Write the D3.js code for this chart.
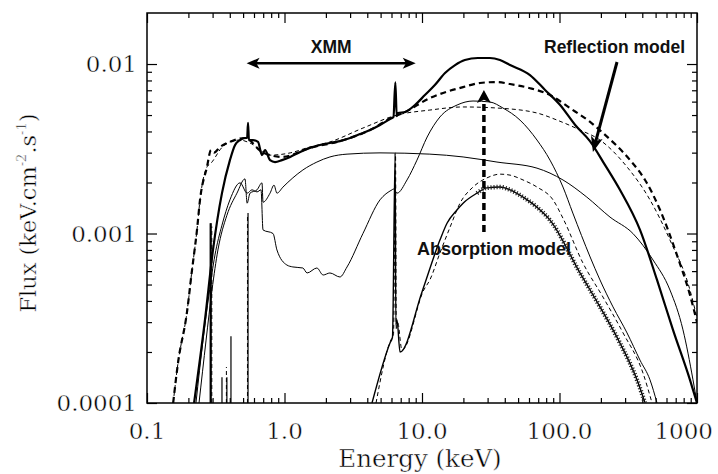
<!DOCTYPE html>
<html><head><meta charset="utf-8">
<script src="https://cdn.jsdelivr.net/npm/d3@7"></script>
<style>body{margin:0;background:#fff} svg{display:block}</style>
</head><body><svg id="c" width="718" height="474"></svg>
<script>
// ---- axis ticks / labels ----
const xTicks = [0.1, 1, 10, 100, 1000];
const xTickLabels = ["0.1", "1.0", "10.0", "100.0", "1000"];
const yTicks = [0.0001, 0.001, 0.01];
const yTickLabels = ["0.0001", "0.001", "0.01"];
const xTitle = "Energy (keV)";

// ---- series: [energy keV, flux keV cm^-2 s^-1] ----
// thick solid: total reflection model
const reflTotal = [[0.22,1e-4],[0.264,3.09e-4],[0.302,8.0e-4],[0.351,1.73e-3],[0.401,2.71e-3],[0.437,3.33e-3],[0.475,3.56e-3],[0.516,3.66e-3],[0.535,3.66e-3],[0.543,4.5e-3],[0.551,3.56e-3],[0.59,3.56e-3],[0.642,3.47e-3],[0.686,2.90e-3],[0.722,3.11e-3],[0.785,2.71e-3],[0.853,2.64e-3],[0.959,2.71e-3],[1.10,2.83e-3],[1.30,3.03e-3],[1.53,3.20e-3],[1.81,3.33e-3],[2.14,3.42e-3],[2.53,3.51e-3],[3.0,3.66e-3],[3.54,3.86e-3],[4.19,4.08e-3],[4.95,4.37e-3],[5.85,4.74e-3],[6.2,4.87e-3],[6.4,7.8e-3],[6.55,4.93e-3],[6.69,5.14e-3],[7.52,5.21e-3],[8.89,5.73e-3],[10.5,6.56e-3],[12.4,7.52e-3],[14.7,8.85e-3],[17.4,9.86e-3],[20.5,1.056e-2],[25.5,1.085e-2],[31.2,1.085e-2],[36.9,1.056e-2],[43.7,9.86e-3],[61.0,8.61e-3],[78.5,7.03e-3],[101,5.73e-3],[130,4.37e-3],[167,3.5e-3],[214,2.54e-3],[275,1.81e-3],[385,1.05e-3],[512,5.32e-4],[669,2.70e-4],[889,1.37e-4],[1000,1e-4]];
// thick dashed: reflection model variant
const reflDashed = [[0.155,1e-4],[0.168,1.72e-4],[0.195,3.40e-4],[0.2125,6.09e-4],[0.231,1.05e-3],[0.243,1.58e-3],[0.273,2.47e-3],[0.292,3.11e-3],[0.307,3.0e-3],[0.34,3.24e-3],[0.401,3.47e-3],[0.459,3.61e-3],[0.516,3.66e-3],[0.686,3.03e-3],[0.959,2.83e-3],[1.53,3.2e-3],[2.53,3.51e-3],[4.19,4.08e-3],[6.15,4.87e-3],[7.28,5.14e-3],[11.4,6.29e-3],[19.9,7.31e-3],[26.4,7.73e-3],[35.1,7.83e-3],[43.7,7.62e-3],[61.0,7.2e-3],[85.3,6.56e-3],[119,5.5e-3],[167,4.55e-3],[207,3.92e-3],[326,2.71e-3],[419,2.07e-3],[538,1.38e-3],[715,7.46e-4],[889,4.34e-4],[1000,3.0e-4]];
// thin dashed: reflection component
const reflThin = [[0.155,1e-4],[0.168,1.72e-4],[0.195,3.40e-4],[0.2125,6.09e-4],[0.231,1.05e-3],[0.243,1.58e-3],[0.273,2.47e-3],[0.292,2.6e-3],[0.351,3.22e-3],[0.41,3.5e-3],[0.475,3.56e-3],[0.561,3.42e-3],[0.785,2.9e-3],[1.10,2.99e-3],[1.53,3.24e-3],[2.14,3.47e-3],[3.72,4.19e-3],[6.58,5.0e-3],[11.4,5.35e-3],[19.9,5.58e-3],[35.1,5.5e-3],[68.6,5.14e-3],[95.9,4.67e-3],[141,4.08e-3],[197,3.56e-3],[310,2.47e-3],[455,1.58e-3],[636,9.15e-4],[889,4.64e-4],[1000,3.17e-4]];
// thin solid: cut-off power-law continuum
const continuum = [[0.239,1e-4],[0.269,2.35e-4],[0.297,4.64e-4],[0.328,8.0e-4],[0.381,1.28e-3],[0.451,1.73e-3],[0.516,2.1e-3],[0.535,1.51e-3],[0.561,1.73e-3],[0.631,1.81e-3],[0.686,1.99e-3],[0.698,1.53e-3],[0.785,1.73e-3],[0.839,1.93e-3],[0.881,1.73e-3],[0.975,1.88e-3],[1.15,2.13e-3],[1.36,2.37e-3],[1.72,2.64e-3],[2.14,2.83e-3],[2.85,2.94e-3],[4.95,2.99e-3],[11.4,2.94e-3],[19.9,2.83e-3],[35.1,2.64e-3],[68.6,2.43e-3],[106,2.07e-3],[158,1.64e-3],[233,1.25e-3],[342,1.0e-3],[479,6.98e-4],[636,4.64e-4],[791,2.7e-4],[935,1.37e-4],[1000,1e-4]];
// thin solid: absorbed continuum + reflection hump
const absorbedHump = [[0.227,1e-4],[0.2555,2.35e-4],[0.282,4.34e-4],[0.312,7.46e-4],[0.351,1.12e-3],[0.401,1.58e-3],[0.475,1.99e-3],[0.535,1.73e-3],[0.58,1.81e-3],[0.631,1.76e-3],[0.675,1.81e-3],[0.698,1.05e-3],[0.825,1.0e-3],[0.881,8.0e-4],[1.04,6.52e-4],[1.15,6.35e-4],[1.36,6.26e-4],[1.46,5.85e-4],[1.72,6.26e-4],[1.91,5.69e-4],[2.14,5.85e-4],[2.53,5.54e-4],[2.85,6.35e-4],[3.72,1.0e-3],[4.95,1.58e-3],[6.05,1.81e-3],[6.2,1.83e-3],[6.58,1.73e-3],[7.78,2.07e-3],[9.19,2.71e-3],[10.9,3.71e-3],[13.5,4.87e-3],[18.0,5.73e-3],[23.5,6.05e-3],[31.2,5.97e-3],[38.8,5.5e-3],[51.6,4.67e-3],[68.6,3.56e-3],[85.3,2.71e-3],[106,1.88e-3],[125,1.32e-3],[167,7.27e-4],[197,5.32e-4],[245,3.69e-4],[310,2.59e-4],[385,1.79e-4],[455,1.37e-4],[512,1e-4]];
// jagged solid: absorption model
const absModel = [[4.33,1e-4],[5.85,2.26e-4],[6.1,2.45e-4],[6.38,2.99e-3],[6.45,2.9e-4],[6.58,3.09e-4],[6.92,2.0e-4],[10.0,4.52e-4],[13.5,9.15e-4],[15.2,1.15e-3],[18.0,1.38e-3],[19.9,1.51e-3],[25.1,1.73e-3],[29.7,1.86e-3],[36.9,1.88e-3],[43.7,1.81e-3],[54.3,1.64e-3],[68.6,1.43e-3],[85.3,1.2e-3],[141,5.85e-4],[197,3.69e-4],[275,2.26e-4],[366,1.37e-4],[419,1e-4]];
// thin dashed: absorption model variant
const absDashed = [[4.63,1e-4],[5.95,2.36e-4],[6.2,2.5e-4],[6.42,2.9e-3],[6.5,2.7e-4],[6.65,3.0e-4],[7.15,2.05e-4],[10.3,4.64e-4],[11.4,5.32e-4],[13.5,7.67e-4],[16.0,1.09e-3],[18.9,1.51e-3],[23.5,1.88e-3],[29.7,2.13e-3],[36.9,2.24e-3],[43.7,2.21e-3],[54.3,2.07e-3],[68.6,1.88e-3],[89.7,1.58e-3],[106,1.23e-3],[148,6.7e-4],[207,4.22e-4],[290,2.59e-4],[405,1.5e-4],[471,1e-4]];
// emission lines / edges at low energy: [energy, peak flux]
const lowLinesSolid = [[0.292,1.15e-3],[0.351,1.42e-4],[0.381,1.42e-4],[0.408,2.48e-4],[0.543,1.32e-3]];
const lowLinesThickSolid = [[0.29,1.15e-3]];
const lowLinesDashed = [[0.296,1.1e-3],[0.378,1.63e-4],[0.538,1.3e-3]];

// ---- annotations (data coordinates) ----
const xmmRange = [0.53, 9.0], xmmFlux = 0.0101;
const reflArrow = [[262, 1.028e-2], [175, 3.03e-3]];
const absArrow = [28.2, 1.02e-3, 7.03e-3];

// ---- drawing ----
const svg = d3.select("#c");
const M = {l:147, r:697, t:13, b:403};
const x = d3.scaleLog().domain([0.1, 1000]).range([M.l, M.r]);
const y = d3.scaleLog().domain([1e-4, 0.02]).range([M.b, M.t]);
const serif = "'DejaVu Serif', serif";
const sans = "'Liberation Sans', Arial, sans-serif";

svg.append("defs").append("clipPath").attr("id","clip")
  .append("rect").attr("x",M.l).attr("y",M.t).attr("width",M.r-M.l).attr("height",M.b-M.t);

const minorX = [], minorY = [];
xTicks.slice(0,-1).forEach(d => { for (let k=2;k<=9;k++) minorX.push(d*k); });
yTicks.forEach(d => { for (let k=2;k<=9;k++) if (d*k < 0.02) minorY.push(d*k); });

function ax(gen, tr, vals, size) {
  svg.append("g").attr("transform", tr)
    .call(gen.tickValues(vals).tickSize(size).tickFormat(""))
    .call(g => { g.select(".domain").remove(); g.selectAll("line").attr("stroke","#000").attr("stroke-width",1.2); });
}
ax(d3.axisBottom(x), `translate(0,${M.b})`, xTicks, -10);
ax(d3.axisBottom(x), `translate(0,${M.b})`, minorX, -5);
ax(d3.axisTop(x), `translate(0,${M.t})`, xTicks, -10);
ax(d3.axisTop(x), `translate(0,${M.t})`, minorX, -5);
ax(d3.axisLeft(y), `translate(${M.l},0)`, yTicks, -10);
ax(d3.axisLeft(y), `translate(${M.l},0)`, minorY, -5);
ax(d3.axisRight(y), `translate(${M.r},0)`, yTicks, -10);
ax(d3.axisRight(y), `translate(${M.r},0)`, minorY, -5);

svg.append("rect").attr("x",M.l).attr("y",M.t).attr("width",M.r-M.l).attr("height",M.b-M.t)
  .attr("fill","none").attr("stroke","#000").attr("stroke-width",1.5);

// thin-looking serif text (slightly erode glyph edges with a white stroke)
function thin(sel) { return sel.attr("font-family", serif).attr("fill","#000").attr("stroke","#fff").attr("stroke-width",0.45); }

// tick labels
thin(svg.append("g").selectAll("text").data(xTicks).join("text")
  .attr("x", (d,i) => i === xTicks.length-1 ? 713 : x(d)).attr("y", 439)
  .attr("text-anchor", (d,i) => i === xTicks.length-1 ? "end" : "middle")
  .attr("font-size", 23)
  .text((d,i) => xTickLabels[i]));
thin(svg.append("g").selectAll("text").data(yTicks).join("text")
  .attr("x", 137).attr("y", d => y(d) + 8).attr("text-anchor","end")
  .attr("font-size", 23)
  .text((d,i) => yTickLabels[i]));

// axis titles
thin(svg.append("text").attr("x", 420).attr("y", 467).attr("text-anchor","middle")
  .attr("font-size", 24.5).text(xTitle));
const yl = thin(svg.append("text").attr("transform","translate(36,213) rotate(-90)")
  .attr("text-anchor","middle").attr("font-size", 22.5));
yl.append("tspan").text("Flux (keV.cm");
yl.append("tspan").attr("dy",-10).attr("font-size",13).text("-2");
yl.append("tspan").attr("dy",10).text(".s");
yl.append("tspan").attr("dy",-10).attr("font-size",13).text("-1");
yl.append("tspan").attr("dy",10).text(")");

// curves
const plot = svg.append("g").attr("clip-path","url(#clip)");
const line = d3.line().x(d => x(d[0])).y(d => y(d[1])).curve(d3.curveMonotoneX);
function draw(data, w, dash) {
  plot.append("path").attr("d", line(data)).attr("fill","none").attr("stroke","#000")
    .attr("stroke-width", w).attr("stroke-dasharray", dash || null).attr("stroke-linejoin","round");
}
draw(continuum, 1);
draw(absorbedHump, 1);
draw(absDashed, 1, "4,3");
draw(absModel, 1.4);
plot.append("path").attr("d", line(absModel.filter(d => d[0] >= 24 && d[0] <= 420)))
  .attr("fill","none").attr("stroke","#222").attr("stroke-width",4.5).attr("stroke-dasharray","1.1,1.9");
draw(reflThin, 1, "4,3");
draw(reflDashed, 2.2, "6,4");
draw(reflTotal, 2.2);

function spikes(data, w, dash) {
  plot.append("g").selectAll("line").data(data).join("line")
    .attr("x1", d => x(d[0])).attr("x2", d => x(d[0]))
    .attr("y1", y(1e-4)).attr("y2", d => y(d[1]))
    .attr("stroke","#000").attr("stroke-width", w).attr("stroke-dasharray", dash || null);
}
spikes(lowLinesSolid, 1.2);
spikes(lowLinesThickSolid, 2);
spikes(lowLinesDashed, 1, "4,3");

// annotations
function arrowHead(g, x0, y0, x1, y1, len, hw) {
  const a = Math.atan2(y1 - y0, x1 - x0);
  const bx = x1 - len*Math.cos(a), by = y1 - len*Math.sin(a);
  const px = -Math.sin(a)*hw, py = Math.cos(a)*hw;
  g.append("path").attr("d", `M${x1},${y1}L${bx+px},${by+py}L${bx+len*0.25*Math.cos(a)},${by+len*0.25*Math.sin(a)}L${bx-px},${by-py}Z`).attr("fill","#000");
}
const ann = svg.append("g");
// XMM
const xa = x(xmmRange[0]), xb = x(xmmRange[1]), xy = y(xmmFlux);
ann.append("line").attr("x1", xa+6).attr("x2", xb-6).attr("y1", xy).attr("y2", xy).attr("stroke","#000").attr("stroke-width",2.5);
arrowHead(ann, xb, xy, xa, xy, 13, 5.5);
arrowHead(ann, xa, xy, xb, xy, 13, 5.5);
ann.append("text").attr("x", (xa+xb)/2).attr("y", 53).attr("text-anchor","middle")
  .attr("font-family", sans).attr("font-weight","bold").attr("font-size",17.5).attr("fill","#111").text("XMM");
// Reflection model
const r0 = [x(reflArrow[0][0]), y(reflArrow[0][1])], r1 = [x(reflArrow[1][0]), y(reflArrow[1][1])];
ann.append("line").attr("x1", r0[0]).attr("y1", r0[1]).attr("x2", r1[0] + (r0[0]-r1[0])*0.1).attr("y2", r1[1] + (r0[1]-r1[1])*0.1)
  .attr("stroke","#000").attr("stroke-width",3);
arrowHead(ann, r0[0], r0[1], r1[0], r1[1], 15, 6);
ann.append("text").attr("x", 544).attr("y", 53)
  .attr("font-family", sans).attr("font-weight","bold").attr("font-size",17.5).attr("fill","#111").text("Reflection model");
// Absorption model
const ax0 = x(absArrow[0]), ay0 = y(absArrow[1]), ay1 = y(absArrow[2]);
ann.append("line").attr("x1", ax0).attr("x2", ax0).attr("y1", ay0).attr("y2", ay1 + 10)
  .attr("stroke","#000").attr("stroke-width",3.5).attr("stroke-dasharray","7,4");
arrowHead(ann, ax0, ay0, ax0, ay1, 13, 7);
ann.append("text").attr("x", 417).attr("y", 255)
  .attr("font-family", sans).attr("font-weight","bold").attr("font-size",18).attr("fill","#111").text("Absorption model");
</script></body></html>
